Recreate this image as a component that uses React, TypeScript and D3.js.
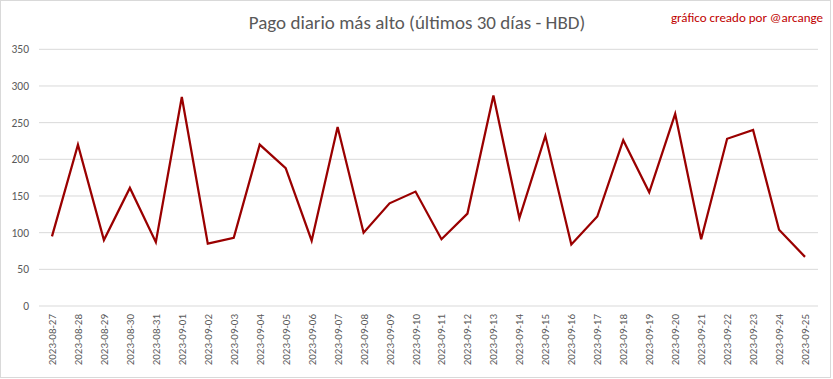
import React from "react";
import * as d3 from "d3";

const dates = [
  "2023-08-27","2023-08-28","2023-08-29","2023-08-30","2023-08-31",
  "2023-09-01","2023-09-02","2023-09-03","2023-09-04","2023-09-05",
  "2023-09-06","2023-09-07","2023-09-08","2023-09-09","2023-09-10",
  "2023-09-11","2023-09-12","2023-09-13","2023-09-14","2023-09-15",
  "2023-09-16","2023-09-17","2023-09-18","2023-09-19","2023-09-20",
  "2023-09-21","2023-09-22","2023-09-23","2023-09-24","2023-09-25",
];
const values = [
  95, 220, 90, 161, 87,
  285, 85, 93, 220, 188,
  89, 244, 100, 140, 156,
  91, 126, 287, 120, 232,
  84, 122, 226, 155, 262,
  91, 228, 240, 104, 67,
];
const yTicks = [0, 50, 100, 150, 200, 250, 300, 350];
const title = "Pago diario más alto (últimos 30 días - HBD)";
const credit = "gráfico creado por @arcange";

const W = 833, H = 379;
const left = 39, right = 818, top = 49.3, bottom = 306;

export default function App() {
  const x = d3.scaleBand<string>().domain(dates).range([left, right]);
  const y = d3.scaleLinear().domain([0, 350]).range([bottom, top]);
  const line = d3.line<number>()
    .x((_, i) => (x(dates[i]) as number) + x.bandwidth() / 2)
    .y((d) => y(d));
  const font = "Carlito, 'Liberation Sans', Arial, sans-serif";
  return (
    <svg width={W} height={H} style={{ position: "fixed", top: 0, left: 0 }} fontFamily={font}>
      <rect x={0.5} y={0.5} width={W - 3} height={H - 2} fill="#fff" stroke="#d9d9d9" />
      <text x={417} y={29} textAnchor="middle" fontSize={19} fill="#595959">{title}</text>
      <text x={823} y={22} textAnchor="end" fontSize={13} fill="#c00000">{credit}</text>
      {yTicks.map((t) => (
        <g key={t}>
          <line x1={left} x2={right} y1={y(t)} y2={y(t)} stroke="#d9d9d9" strokeWidth={1} />
          <text x={29} y={y(t)} dy="0.35em" textAnchor="end" fontSize={11.5} fill="#595959">{t}</text>
        </g>
      ))}
      {dates.map((d) => {
        const cx = (x(d) as number) + x.bandwidth() / 2;
        return (
          <text key={d} transform={`translate(${cx + 4},${314}) rotate(-90)`} textAnchor="end" fontSize={11} fill="#595959">{d}</text>
        );
      })}
      <path d={line(values) || ""} fill="none" stroke="#9a0000" strokeWidth={2.25} strokeLinejoin="miter" />
    </svg>
  );
}
